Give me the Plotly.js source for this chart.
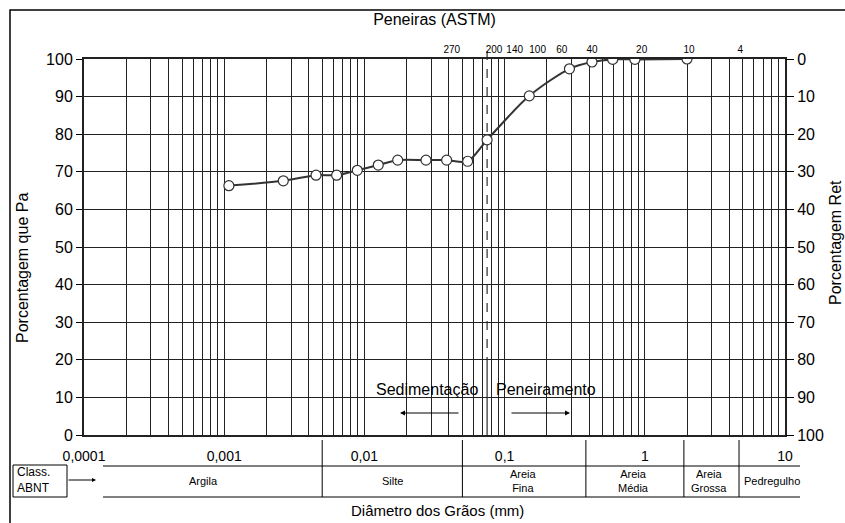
<!DOCTYPE html>
<html><head><meta charset="utf-8">
<script src="https://cdn.plot.ly/plotly-3.0.1.min.js"></script>
<style>html,body{margin:0;padding:0;background:#fff}</style>
</head><body><div id="chart" style="width:845px;height:523px"></div>
<script>
// ---- data ----
const diameters = [0.00108,0.00264,0.00452,0.00634,0.0089,0.01256,0.01728,0.0275,0.0386,0.0545,0.075,0.15,0.29,0.42,0.59,0.85,2.0];
const percentPassing = [66.3,67.6,69.1,69.1,70.4,71.8,73.1,73.1,73.1,72.8,78.5,90.2,97.4,99.2,99.9,99.9,100];
const decadeTicks = [0.0001,0.001,0.01,0.1,1,10];
const decadeLabels = ['0,0001','0,001','0,01','0,1','1','10'];
const sieveNumbers = ['270','200','140','100','60','40','20','10','4'];
const sieveLabelPos = [0.042,0.084,0.118,0.172,0.256,0.42,0.95,2.07,4.8];
const abntBounds = [0.005,0.05,0.38,1.9,4.7];
const abntClasses = ['Argila','Silte','Areia<br>Fina','Areia<br>Média','Areia<br>Grossa','Pedregulho'];
const percentTicks = [0,10,20,30,40,50,60,70,80,90,100];
const sieveDivider = 0.075;

// ---- geometry helpers (layout only) ----
const W=845,H=523,ML=84,MR=60,MT=59,MB=88;
const PW=W-ML-MR, PH=H-MT-MB;
const px = v => (v-ML)/PW;
const py = v => (H-MB-v)/PH;
const FONT = 'Liberation Sans, Arial, Helvetica, sans-serif';

// grid tick values for log axis
const gridVals=[], gridText=[];
for (let d=-4; d<=0; d++) {
  for (let m=1; m<=9; m++) {
    const v = Number((m*Math.pow(10,d)).toPrecision(3));
    gridVals.push(v);
    const k = decadeTicks.indexOf(v);
    gridText.push(k>=0 ? decadeLabels[k] : '');
  }
}
gridVals.push(10); gridText.push(decadeLabels[5]);

const traces = [
  {x: diameters, y: percentPassing, type:'scatter', mode:'lines+markers',
   line:{color:'#333', width:2, shape:'spline', smoothing:0.8},
   marker:{symbol:'circle', size:10, color:'#fff', line:{color:'#333', width:1.2}},
   hoverinfo:'x+y', showlegend:false},
  {x:[1], y:[50], xaxis:'x2', yaxis:'y2', type:'scatter', mode:'markers',
   marker:{opacity:0}, hoverinfo:'skip', showlegend:false}
];

const shapes = [];
shapes.push({type:'line', xref:'x', yref:'paper', x0:sieveDivider, x1:sieveDivider, y0:py(366), y1:1,
  line:{color:'#000', width:1, dash:'dash'}, layer:'between'});
shapes.push({type:'line', xref:'x', yref:'paper', x0:sieveDivider, x1:sieveDivider, y0:1, y1:py(51),
  line:{color:'#000', width:1}, layer:'between'});
shapes.push({type:'rect', xref:'paper', yref:'paper', x0:px(367), x1:px(605), y0:py(429), y1:py(366),
  fillcolor:'#fff', line:{width:0}, layer:'between'});
shapes.push({type:'line', xref:'x', yref:'paper', x0:sieveDivider, x1:sieveDivider, y0:0, y1:py(366),
  line:{color:'#000', width:1}, layer:'between'});
shapes.push({type:'line', xref:'paper', yref:'paper', x0:px(103), x1:px(800), y0:py(466), y1:py(466), line:{color:'#000', width:1}});
shapes.push({type:'line', xref:'paper', yref:'paper', x0:px(103), x1:px(800), y0:py(497), y1:py(497), line:{color:'#000', width:1}});
abntBounds.forEach(b => shapes.push({type:'line', xref:'x', yref:'paper', x0:b, x1:b, y0:py(440), y1:py(497), line:{color:'#000', width:1}}));
shapes.push({type:'rect', xref:'paper', yref:'paper', x0:px(13), x1:px(67), y0:py(497), y1:py(465), line:{color:'#000', width:1}, fillcolor:'rgba(0,0,0,0)'});
shapes.push({type:'rect', xref:'paper', yref:'paper', x0:px(10), x1:px(900), y0:py(600), y1:py(10), line:{color:'#000', width:1.5}, fillcolor:'rgba(0,0,0,0)'});

const A = o => Object.assign({xref:'paper', yref:'paper', xanchor:'center', yanchor:'middle', showarrow:false}, o);
const annotations = [
  A({text:'Porcentagem que Pa', x:px(22), y:py(268), textangle:-90, font:{size:16, color:'#000'}}),
  A({text:'Porcentagem Ret', x:px(835), y:py(243), textangle:-90, font:{size:16, color:'#000'}}),
  A({text:'Sedimentação', x:px(427), y:py(389), font:{size:16, color:'#000'}}),
  A({text:'Peneiramento', x:px(546), y:py(389), font:{size:16, color:'#000'}}),
  A({text:'', x:px(400), y:py(413), ax:60, ay:0, axref:'pixel', ayref:'pixel', showarrow:true, arrowhead:2, arrowsize:1, arrowwidth:1, arrowcolor:'#000'}),
  A({text:'', x:px(570), y:py(413), ax:-60, ay:0, axref:'pixel', ayref:'pixel', showarrow:true, arrowhead:2, arrowsize:1, arrowwidth:1, arrowcolor:'#000'}),
  A({text:'Class.<br>ABNT', x:px(15), y:py(480), xanchor:'left', align:'left', font:{size:12, color:'#000'}}),
  A({text:'', x:px(96), y:py(480), ax:-29, ay:0, axref:'pixel', ayref:'pixel', showarrow:true, arrowhead:2, arrowsize:0.8, arrowwidth:1, arrowcolor:'#000'}),
  A({text:'Diâmetro dos Grãos (mm)', x:px(437), y:py(510), font:{size:15, color:'#000'}})
];
const classPx = [203,392,523,633,709,772];
abntClasses.forEach((c,i) => annotations.push(A({text:c, x:px(classPx[i]), y:py(481), font:{size:11, color:'#000'}})));

const layout = {
  width:W, height:H, margin:{l:ML, r:MR, t:MT, b:MB},
  paper_bgcolor:'#fff', plot_bgcolor:'#fff',
  font:{family:FONT, color:'#000'},
  title:{text:'Peneiras (ASTM)', font:{size:16, color:'#000'}, xref:'paper', x:0.5, xanchor:'center', yref:'container', y:1-19/H, yanchor:'middle'},
  xaxis:{type:'log', range:[-4,1], tickvals:gridVals, ticktext:gridText, ticks:'', tickangle:0, showgrid:true, gridcolor:'#222', gridwidth:1,
    showline:true, linecolor:'#222', linewidth:2, mirror:true, tickfont:{size:14}, ticklabelstandoff:7, zeroline:false, fixedrange:true},
  xaxis2:{type:'log', range:[-4,1], overlaying:'x', side:'top', tickvals:sieveLabelPos, ticktext:sieveNumbers, ticks:'', tickangle:0, showgrid:false,
    showline:false, tickfont:{size:10}, ticklabelstandoff:3, zeroline:false},
  yaxis:{range:[0,100], tickvals:percentTicks, ticks:'outside', ticklen:6, tickcolor:'#000', showgrid:true, gridcolor:'#222', gridwidth:1,
    showline:true, linecolor:'#222', linewidth:2, mirror:true, tickfont:{size:16}, zeroline:false},
  yaxis2:{range:[100,0], overlaying:'y', side:'right', tickvals:percentTicks, ticks:'outside', ticklen:8, tickcolor:'#000', showgrid:false,
    showline:false, tickfont:{size:16}, zeroline:false},
  shapes:shapes, annotations:annotations, showlegend:false
};
Plotly.newPlot('chart', traces, layout, {displayModeBar:false, staticPlot:true});
</script></body></html>
